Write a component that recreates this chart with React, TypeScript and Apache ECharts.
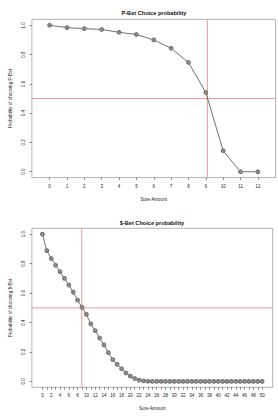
import React, { useEffect, useRef } from "react";
import * as echarts from "echarts";

// P-Bet: probability of choosing the P-Bet at each sure amount
const pbetSure = [0, 1, 2, 3, 4, 5, 6, 7, 8, 9, 10, 11, 12];
const pbetProb = [1.0, 0.984, 0.977, 0.971, 0.952, 0.937, 0.9, 0.843, 0.746, 0.541, 0.143, 0.0, 0.0];
const pbetIndifference = 9.09;

// $-Bet: probability of choosing the $-Bet at each sure amount
const sbetSure = [
  0, 1, 2, 3, 4, 5, 6, 7, 8, 9, 10, 11, 12, 13, 14, 15, 16, 17, 18, 19, 20, 21, 22, 23, 24, 25,
  26, 27, 28, 29, 30, 31, 32, 33, 34, 35, 36, 37, 38, 39, 40, 41, 42, 43, 44, 45, 46, 47, 48, 49, 50,
];
const sbetProb = [
  1.0, 0.888, 0.835, 0.789, 0.745, 0.7, 0.655, 0.607, 0.552, 0.503, 0.455, 0.391, 0.345, 0.295,
  0.248, 0.196, 0.148, 0.116, 0.086, 0.057, 0.036, 0.02, 0.009, 0.004, 0.001, 0, 0, 0, 0, 0, 0, 0,
  0, 0, 0, 0, 0, 0, 0, 0, 0, 0, 0, 0, 0, 0, 0, 0, 0, 0, 0,
];
const sbetIndifference = 8.95;

const probTicks = [0, 0.2, 0.4, 0.6, 0.8, 1.0];
const probRange = [-0.04, 1.04];
const pbetRange = [-1.02, 13.02];
const sbetRange = [-2.4, 52.4];
const pbetTicks = pbetSure;
const sbetTicks = sbetSure;
const sbetLabels = sbetSure.filter((v) => v % 2 === 0);
const halfLine = 0.5;

const FONT = "Liberation Sans, Arial, sans-serif";
const BOX = "#a0a0a0";
const RED = "#ee8f8f";

function xAxisFor(gridIndex: number, range: number[], ticks: number[], labels: number[]) {
  return {
    type: "value",
    gridIndex,
    min: range[0],
    max: range[1],
    name: "Sure Amount",
    nameLocation: "middle",
    nameGap: 19,
    nameTextStyle: { fontSize: 4.6, fontFamily: FONT, color: "#222" },
    axisLine: { show: false, onZero: false },
    axisTick: { show: true, customValues: ticks, length: 2.5, lineStyle: { color: "#444", width: 0.6 } },
    axisLabel: {
      customValues: labels,
      interval: 0,
      hideOverlap: false,
      fontSize: 4.5,
      fontFamily: FONT,
      color: "#222",
      margin: 6,
    },
    splitLine: { show: false },
  };
}

function yAxisFor(gridIndex: number, name: string) {
  return {
    type: "value",
    gridIndex,
    min: probRange[0],
    max: probRange[1],
    name,
    nameLocation: "middle",
    nameRotate: 90,
    nameGap: 16,
    nameTextStyle: { fontSize: 4.6, fontFamily: FONT, color: "#222" },
    axisLine: { show: false, onZero: false },
    axisTick: { show: true, customValues: probTicks, length: 2.5, lineStyle: { color: "#444", width: 0.6 } },
    axisLabel: {
      customValues: probTicks,
      interval: 0,
      hideOverlap: false,
      rotate: 90,
      fontSize: 4.5,
      fontFamily: FONT,
      color: "#222",
      margin: 6,
      formatter: (v: number) => v.toFixed(1),
    },
    splitLine: { show: false },
  };
}

function curve(xs: number[], ys: number[], idx: number) {
  return {
    type: "line",
    xAxisIndex: idx,
    yAxisIndex: idx,
    z: 3,
    data: xs.map((x, i) => [x, ys[i]]),
    symbol: "emptyCircle",
    symbolSize: 2.8,
    lineStyle: { color: "#333", width: 0.7 },
    itemStyle: { color: "#7a7a7a", borderWidth: 0.5 },
  };
}

// Reference lines: the indifference amount and the 50% level
function guide(idx: number, pts: number[][]) {
  return {
    type: "line",
    xAxisIndex: idx,
    yAxisIndex: idx,
    z: 2,
    silent: true,
    symbol: "none",
    data: pts,
    lineStyle: { color: RED, width: 0.9 },
  };
}

export default function App() {
  const ref = useRef<HTMLDivElement>(null);

  useEffect(() => {
    if (!ref.current) return;
    const chart = echarts.init(ref.current, null, { renderer: "svg" });
    chart.setOption({
      animation: false,
      backgroundColor: "#ffffff",
      title: [
        {
          text: "P-Bet Choice probability",
          left: 149,
          top: 5,
          textAlign: "center",
          textStyle: { fontSize: 5.6, fontWeight: "bold", fontFamily: FONT, color: "#111" },
        },
        {
          text: "$-Bet Choice probability",
          left: 147,
          top: 214.5,
          textAlign: "center",
          textStyle: { fontSize: 5.6, fontWeight: "bold", fontFamily: FONT, color: "#111" },
        },
      ],
      grid: [
        { left: 22, top: 19.4, width: 253.6, height: 158.2, show: true, borderColor: BOX, borderWidth: 0.8 },
        { left: 21.3, top: 228.3, width: 251.4, height: 159, show: true, borderColor: BOX, borderWidth: 0.8 },
      ],
      xAxis: [
        xAxisFor(0, pbetRange, pbetTicks, pbetTicks),
        xAxisFor(1, sbetRange, sbetTicks, sbetLabels),
      ],
      yAxis: [
        yAxisFor(0, "Probability of choosing P-Bet"),
        yAxisFor(1, "Probability of choosing $-Bet"),
      ],
      series: [
        guide(0, [[pbetIndifference, probRange[0]], [pbetIndifference, probRange[1]]]),
        guide(0, [[pbetRange[0], halfLine], [pbetRange[1], halfLine]]),
        guide(1, [[sbetIndifference, probRange[0]], [sbetIndifference, probRange[1]]]),
        guide(1, [[sbetRange[0], halfLine], [sbetRange[1], halfLine]]),
        curve(pbetSure, pbetProb, 0),
        curve(sbetSure, sbetProb, 1),
      ],
    });
    return () => chart.dispose();
  }, []);

  return (
    <div
      ref={ref}
      style={{ position: "fixed", left: 0, top: 0, width: 278, height: 417, background: "#fff" }}
    />
  );
}
